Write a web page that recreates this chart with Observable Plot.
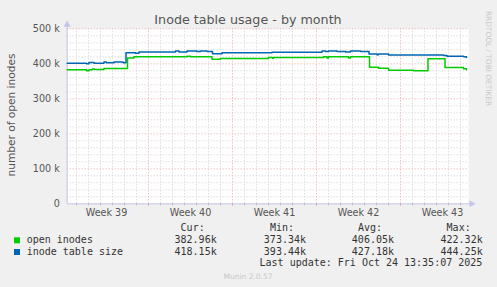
<!DOCTYPE html>
<html><head><meta charset="utf-8">
<script src="https://cdn.jsdelivr.net/npm/d3@7"></script>
<script src="https://cdn.jsdelivr.net/npm/@observablehq/plot@0.6"></script>
<style>
html,body{margin:0;padding:0;background:#f0f0f0;}
#chart{width:497px;height:287px;overflow:hidden;}
</style></head><body><div id="chart"></div>
<script>
// ---- data (values in thousands) ----
const openTimes = ["2025-09-22T05:20","2025-09-23T20:00","2025-09-24T01:00","2025-09-24T08:00","2025-09-24T12:00","2025-09-25T07:00","2025-09-27T06:00","2025-09-27T19:00","2025-10-02T05:00","2025-10-02T12:00","2025-10-04T07:00","2025-10-05T00:00","2025-10-09T00:00","2025-10-09T08:00","2025-10-09T10:00","2025-10-13T14:00","2025-10-13T21:00","2025-10-14T00:00","2025-10-15T16:00","2025-10-15T20:00","2025-10-17T10:00","2025-10-18T04:00","2025-10-19T00:00","2025-10-21T02:00","2025-10-22T07:00","2025-10-23T17:00","2025-10-25T06:00","2025-10-25T12:00"];
const openValues = [383,380,383,385.5,384,386.5,417,420,421.7,420,413,415,418,416,418,420,417,420,417,420,390.5,387.5,382,380,414.5,389.5,386,383];

const tableTimes = ["2025-09-22T05:20","2025-09-23T20:00","2025-09-24T01:00","2025-09-24T11:00","2025-09-25T07:00","2025-09-25T12:00","2025-09-26T03:00","2025-09-26T21:00","2025-09-27T03:00","2025-09-27T22:00","2025-09-28T05:00","2025-10-01T06:00","2025-10-01T13:00","2025-10-02T05:00","2025-10-03T01:00","2025-10-03T08:00","2025-10-03T21:00","2025-10-04T08:00","2025-10-05T03:00","2025-10-09T07:00","2025-10-13T11:00","2025-10-13T18:00","2025-10-14T00:00","2025-10-14T17:00","2025-10-15T10:00","2025-10-15T20:00","2025-10-16T16:00","2025-10-17T09:00","2025-10-18T01:00","2025-10-18T04:00","2025-10-19T00:00","2025-10-23T14:00","2025-10-23T21:00","2025-10-25T06:00","2025-10-25T12:00"];
const tableValues = [402,400,404,402,405,403,405,403,432,430,434,437,434,437,435,437,435,429,432,433,437,435,437,435,434,437,435,428,426,428,425,423.5,422,420,418];

const weekLabels = ["Week 39","Week 40","Week 41","Week 42","Week 43"];
const weekCenters = ["2025-09-25T12:00","2025-10-02T12:00","2025-10-09T12:00","2025-10-16T12:00","2025-10-23T12:00"];
const weekStarts = ["2025-09-29T00:00","2025-10-06T00:00","2025-10-13T00:00","2025-10-20T00:00"];
const yTicks = [0,100,200,300,400,500];

const seriesNames = ["open inodes","inode table size"];
const seriesColors = ["#00cc00","#0066b3"];
const curValues = ["382.96k","418.15k"];
const minValues = ["373.34k","393.44k"];
const avgValues = ["406.05k","427.18k"];
const maxValues = ["422.32k","444.25k"];
const lastUpdate = "Last update: Fri Oct 24 13:35:07 2025";

// ---- build ----
const parse = d3.utcParse("%Y-%m-%dT%H:%M");
const openData = openTimes.map((t,i)=>({date:parse(t), value:openValues[i]}));
const tableData = tableTimes.map((t,i)=>({date:parse(t), value:tableValues[i]}));
const xStart = parse("2025-09-22T05:20"), xEnd = parse("2025-10-25T16:00");
const centers = weekCenters.map(parse);
const labelMap = new Map(centers.map((d,i)=>[+d, weekLabels[i]]));
const starts = weekStarts.map(parse);
const startSet = new Set(starts.map(d=>+d));
const days = d3.utcDay.range(d3.utcDay.ceil(xStart), xEnd).filter(d=>!startSet.has(+d));
const minorY = d3.range(20,500,20).filter(v=>v%100!==0);
const majorY = yTicks.filter(v=>v>0);

const minorStyle = {stroke:"#d0d0d0", strokeDasharray:"1,2", strokeWidth:1};
const majorStyle = {stroke:"#e8a8a8", strokeDasharray:"1,2", strokeWidth:1};
const axisColor = "#c4c4ec";

const chart = Plot.plot({
  width:497, height:287,
  marginLeft:66.67, marginRight:29, marginTop:28.33, marginBottom:83.67,
  style:{fontFamily:"DejaVu Sans", background:"#f0f0f0", color:"#555", overflow:"visible"},
  x:{type:"utc", domain:[xStart,xEnd]},
  y:{domain:[0,500]},
  marks:[
    Plot.frame({fill:"white", stroke:null}),
    Plot.ruleY(minorY, minorStyle),
    Plot.ruleX(days, minorStyle),
    Plot.ruleY(majorY, majorStyle),
    Plot.ruleX(starts, majorStyle),
    Plot.ruleX(days, {y1:0, y2:-6, stroke:"#bbb"}),
    Plot.ruleX(starts, {y1:0, y2:-6, stroke:"#e08080"}),
    Plot.ruleY([0], {x1:xStart, x2:d3.utcHour.offset(xEnd,6), stroke:axisColor}),
    Plot.ruleX([xStart], {y1:0, y2:515, stroke:axisColor}),
    Plot.dot([xStart], {x:d=>d, y:()=>512, symbol:"triangle", r:2.6, fill:axisColor, stroke:null}),
    Plot.dot([d3.utcHour.offset(xEnd,6)], {x:d=>d, y:()=>0, symbol:"triangle", rotate:90, r:2.6, fill:axisColor, stroke:null}),
    Plot.line(openData, {x:"date", y:"value", curve:"step-after", stroke:seriesColors[0], strokeWidth:1.5}),
    Plot.line(tableData, {x:"date", y:"value", curve:"step-after", stroke:seriesColors[1], strokeWidth:1.5}),
    Plot.axisY(yTicks, {tickSize:0, tickPadding:7.4, fontSize:9.6, tickFormat:d=>d===0?"0":d+" k", label:null}),
    Plot.axisX(centers, {tickSize:0, tickPadding:5.6, fontSize:9.6, tickFormat:d=>labelMap.get(+d), label:null})
  ]
});
document.getElementById("chart").appendChild(chart);

const svg = d3.select(chart);
svg.append("text").attr("x",248).attr("y",24).attr("text-anchor","middle")
  .attr("font-size",12.7).attr("fill","#555").text("Inode table usage - by month");
svg.append("text").attr("transform","translate(15,115) rotate(-90)").attr("text-anchor","middle")
  .attr("font-size",10.6).attr("fill","#555").text("number of open inodes");
svg.append("text").attr("transform","translate(486,58.5) rotate(90)").attr("text-anchor","middle")
  .attr("font-size",7.4).attr("fill","#c8c8c8").text("RRDTOOL / TOBI OETIKER");
svg.append("text").attr("x",248).attr("y",279).attr("text-anchor","middle")
  .attr("font-size",7.5).attr("fill","#c8c8c8").text("Munin 2.0.57");

const mono = "DejaVu Sans Mono";
const colRight = [216.7, 306, 394, 482.7];
const headers = ["Cur:","Min:","Avg:","Max:"];
const cols = [curValues, minValues, avgValues, maxValues];
headers.forEach((h,j)=>{
  svg.append("text").attr("x",colRight[j]-12).attr("y",230.7).attr("text-anchor","end")
    .attr("font-family",mono).attr("font-size",10).attr("fill","#333").text(h);
});
const rowY = [243.3, 255];
seriesNames.forEach((name,i)=>{
  svg.append("rect").attr("x",14).attr("y",rowY[i]-6).attr("width",6).attr("height",6).attr("fill",seriesColors[i]);
  svg.append("text").attr("x",26.7).attr("y",rowY[i]).attr("text-anchor","start").attr("font-family",mono).attr("font-size",10)
    .attr("fill","#333").text(name);
  cols.forEach((c,j)=>{
    svg.append("text").attr("x",colRight[j]).attr("y",rowY[i]).attr("text-anchor","end")
      .attr("font-family",mono).attr("font-size",10).attr("fill","#333").text(c[i]);
  });
});
svg.append("text").attr("x",482.3).attr("y",266.3).attr("text-anchor","end")
  .attr("font-family",mono).attr("font-size",10).attr("fill","#333").text(lastUpdate);
</script>
</body></html>
